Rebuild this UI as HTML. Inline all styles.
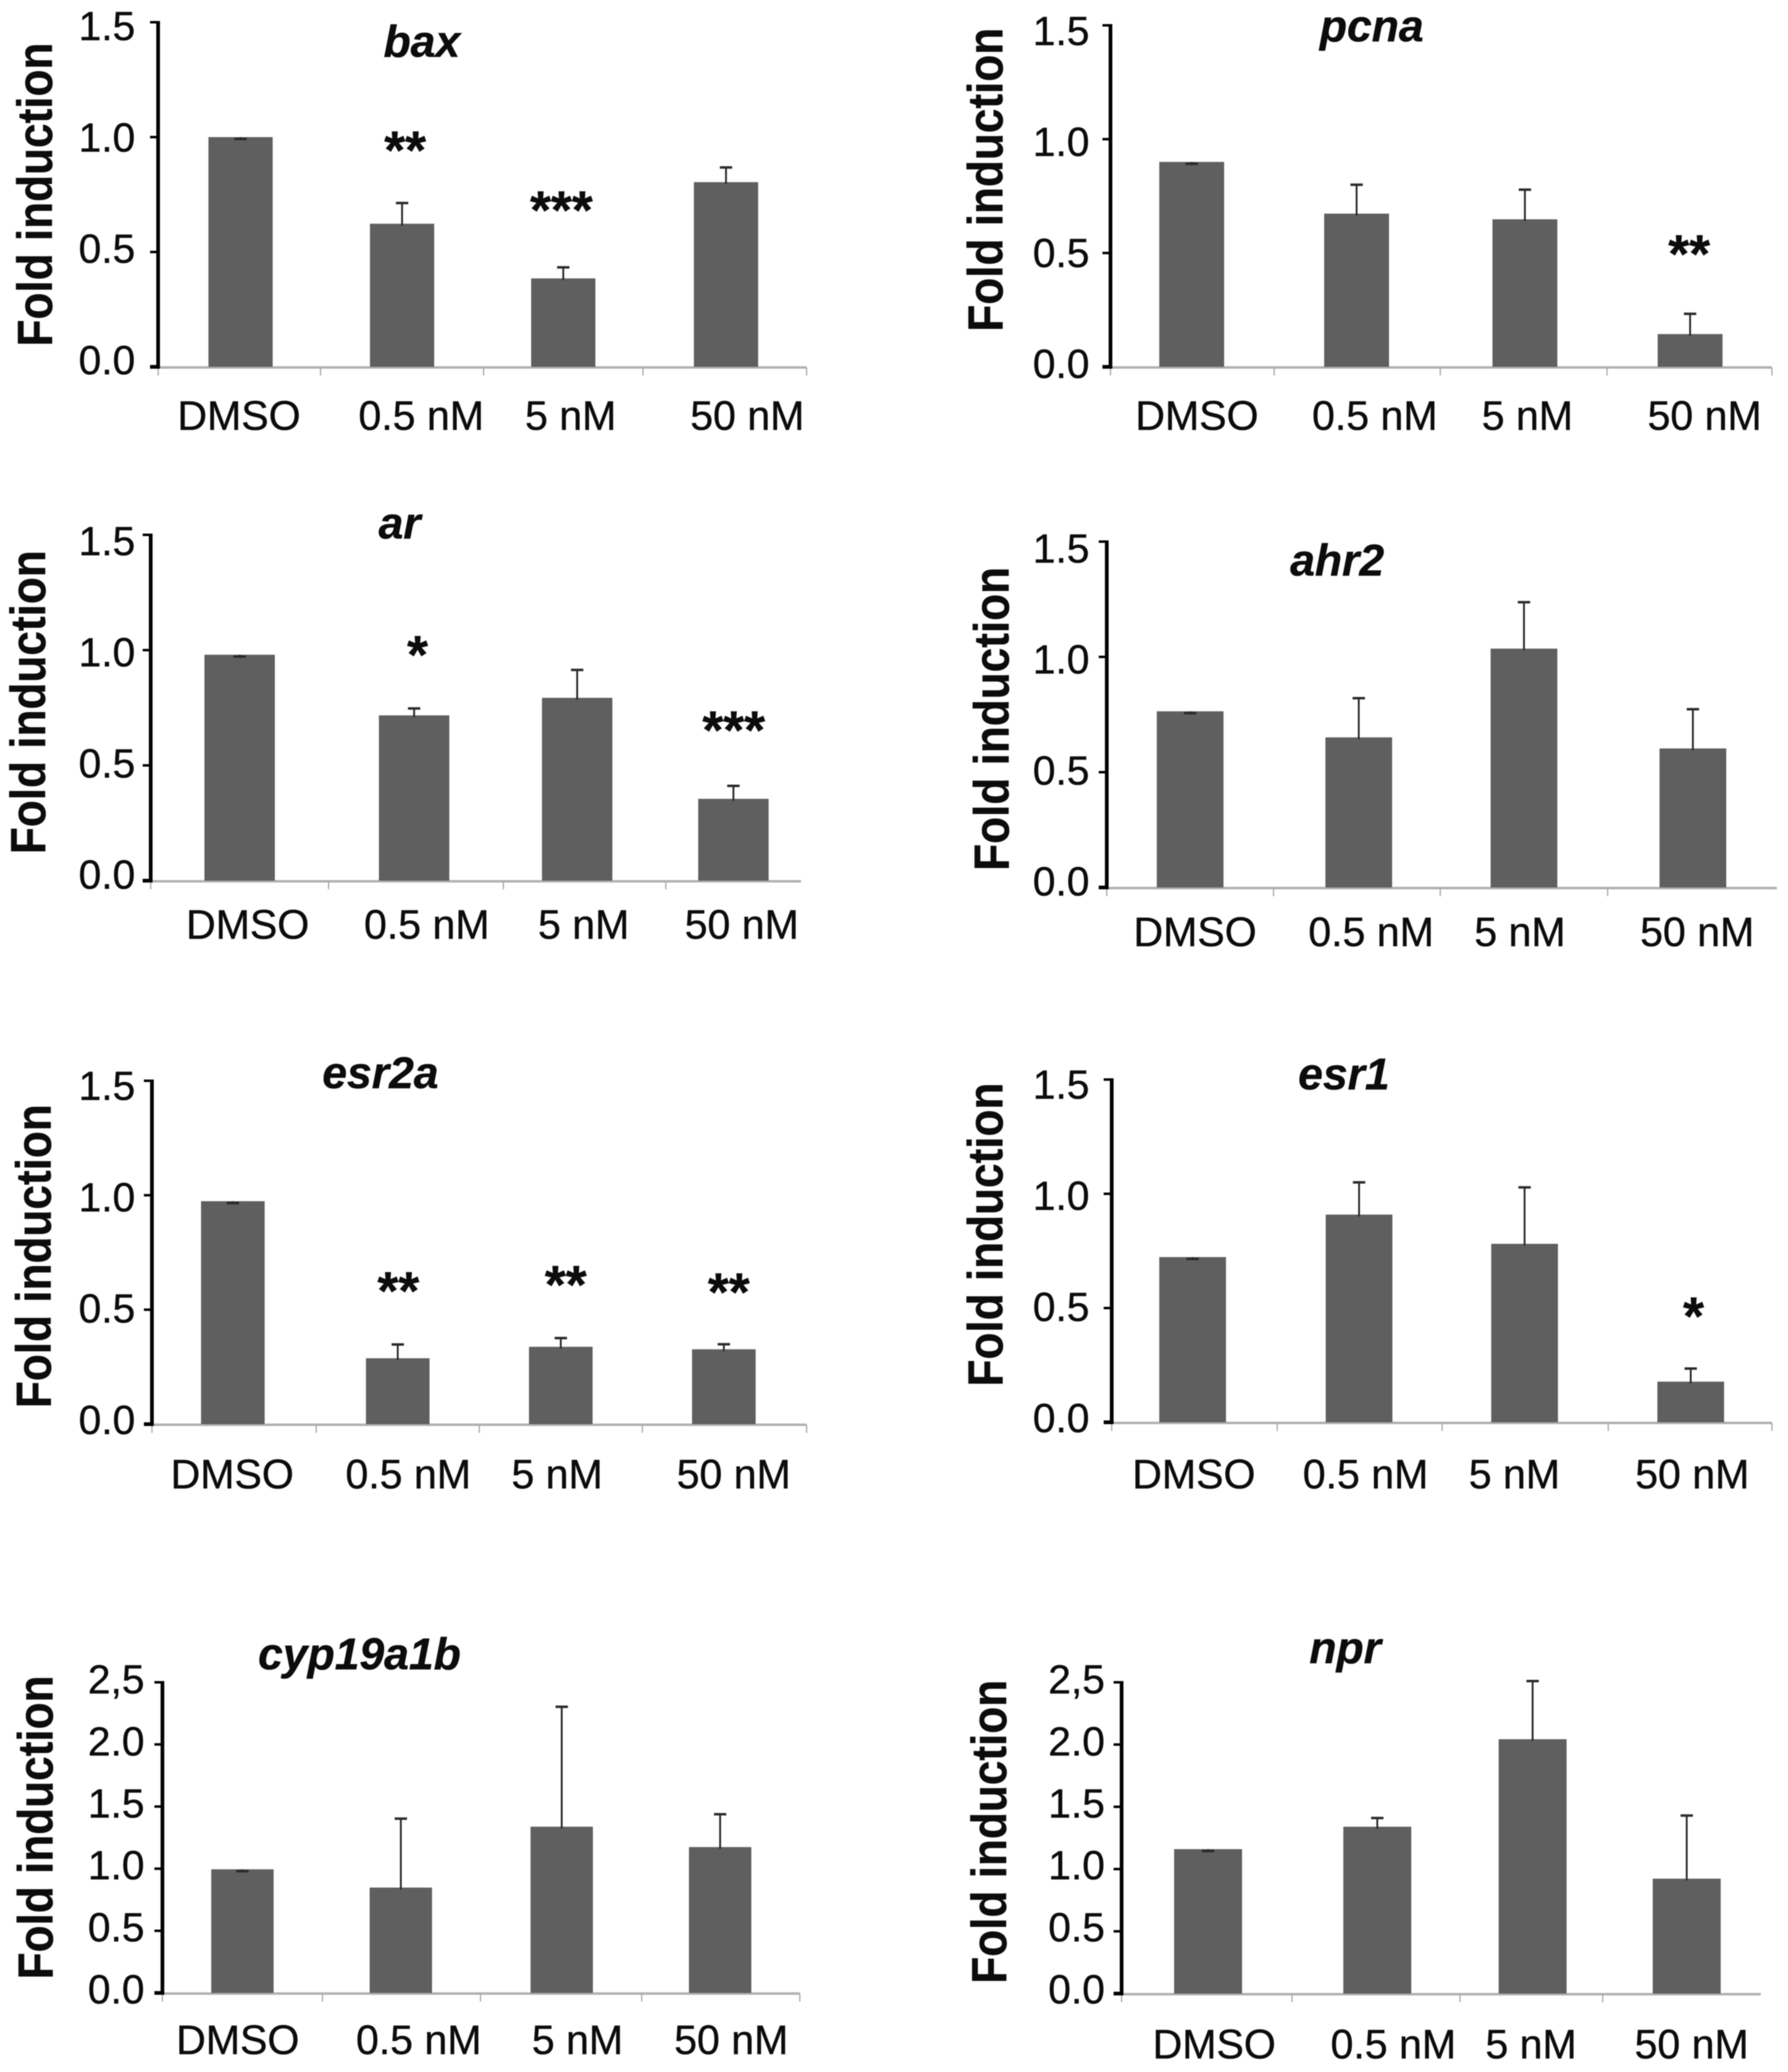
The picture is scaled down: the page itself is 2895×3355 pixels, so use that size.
<!DOCTYPE html>
<html lang="en">
<head>
<meta charset="utf-8">
<title>Fold induction bar charts</title>
<style>
html,body{margin:0;padding:0;background:#fff;}
#figure{display:block;width:2895px;height:3355px;filter:blur(0.8px);}
text{font-family:"Liberation Sans",sans-serif;fill:#0c0c0c;stroke:#0c0c0c;stroke-width:0.6px;}
</style>
</head>
<body>
<svg id="figure" xmlns="http://www.w3.org/2000/svg" width="2895" height="3355" viewBox="0 0 2895 3355"></svg>
<script>
// ---- chart data ----
const categories = ["DMSO", "0.5 nM", "5 nM", "50 nM"];
const tickValuesShort = [0, 0.5, 1.0, 1.5];
const tickLabelsShort = ["0.0", "0.5", "1.0", "1.5"];
const tickValuesTall = [0, 0.5, 1.0, 1.5, 2.0, 2.5];
const tickLabelsTall = ["0.0", "0.5", "1.0", "1.5", "2.0", "2,5"];

const baxValues = [1.0, 0.623, 0.385, 0.804];
const baxErrors = [0, 0.09, 0.048, 0.064];
const pcnaValues = [0.90, 0.673, 0.648, 0.144];
const pcnaErrors = [0, 0.127, 0.13, 0.089];
const arValues = [0.98, 0.717, 0.793, 0.355];
const arErrors = [0, 0.03, 0.121, 0.056];
const ahr2Values = [0.764, 0.651, 1.036, 0.603];
const ahr2Errors = [0, 0.17, 0.201, 0.17];
const esr2aValues = [0.974, 0.288, 0.338, 0.327];
const esr2aErrors = [0, 0.06, 0.038, 0.022];
const esr1Values = [0.723, 0.909, 0.781, 0.178];
const esr1Errors = [0, 0.141, 0.247, 0.057];
const cypValues = [0.995, 0.848, 1.338, 1.174];
const cypErrors = [0, 0.555, 0.965, 0.264];
const nprValues = [1.16, 1.34, 2.043, 0.923];
const nprErrors = [0, 0.07, 0.467, 0.507];

// ---- panel layout (geometry only, no data) ----
const panels = [
  {id:"bax", title:"bax", values:baxValues, errors:baxErrors, tv:tickValuesShort, tl:tickLabelsShort,
   xTicks:[256,519,783,1041,1306], endTick:true, nudge:[2,0,0,2], y0:594, yTop:36, lab0:606, labTop:65, labRight:219, barW:104,
   xLabels:[387,682,924,1210], xBase:696, titleX:683, titleY:92, ylabX:84, ylabY:315,
   stars:[{t:"**",x:656,y:227},{t:"***",x:909,y:324}]},
  {id:"pcna", title:"pcna", values:pcnaValues, errors:pcnaErrors, tv:tickValuesShort, tl:tickLabelsShort,
   xTicks:[1798,2063,2332,2602,2869], endTick:true, nudge:[-1,-1,2,1], y0:594, yTop:41, lab0:612, labTop:73, labRight:1764, barW:105,
   xLabels:[1938,2226,2473,2760], xBase:696, titleX:2221, titleY:67, ylabX:1623, ylabY:291,
   stars:[{t:"**",x:2735,y:395}]},
  {id:"ar", title:"ar", values:arValues, errors:arErrors, tv:tickValuesShort, tl:tickLabelsShort,
   xTicks:[244,532,815,1078,1297], endTick:false, nudge:[0,-3,-12,0], y0:1426, yTop:866, lab0:1439, labTop:899, labRight:219, barW:114,
   xLabels:[401,691,945,1201], xBase:1520, titleX:647, titleY:872, ylabX:73, ylabY:1137,
   stars:[{t:"*",x:676,y:1044},{t:"***",x:1188,y:1166}]},
  {id:"ahr2", title:"ahr2", values:ahr2Values, errors:ahr2Errors, tv:tickValuesShort, tl:tickLabelsShort,
   xTicks:[1792,2062,2332,2603,2877], endTick:false, nudge:[0,3,0,1], y0:1437, yTop:877, lab0:1450, labTop:911, labRight:1764, barW:108,
   xLabels:[1935,2220,2461,2748], xBase:1532, titleX:2165, titleY:932, ylabX:1633, ylabY:1164,
   stars:[]},
  {id:"esr2a", title:"esr2a", values:esr2aValues, errors:esr2aErrors, tv:tickValuesShort, tl:tickLabelsShort,
   xTicks:[246,512,776,1040,1306], endTick:true, nudge:[-2,0,0,-1], y0:2306, yTop:1750, lab0:2322, labTop:1781, labRight:219, barW:103,
   xLabels:[376,661,902,1188], xBase:2410, titleX:616, titleY:1762, ylabX:82, ylabY:2034,
   stars:[{t:"**",x:645,y:2074},{t:"**",x:916,y:2064},{t:"**",x:1180,y:2076}]},
  {id:"esr1", title:"esr1", values:esr1Values, errors:esr1Errors, tv:tickValuesShort, tl:tickLabelsShort,
   xTicks:[1800,2068,2335,2604,2869], endTick:true, nudge:[-3,-1,-1,1], y0:2303, yTop:1748, lab0:2319, labTop:1779, labRight:1764, barW:108,
   xLabels:[1933,2211,2452,2740], xBase:2410, titleX:2176, titleY:1764, ylabX:1623, ylabY:1999,
   stars:[{t:"*",x:2742,y:2115}]},
  {id:"cyp19a1b", title:"cyp19a1b", values:cypValues, errors:cypErrors, tv:tickValuesTall, tl:tickLabelsTall,
   xTicks:[263,522,778,1039,1295], endTick:true, nudge:[0,-1,1,-1], y0:3227, yTop:2724, lab0:3244, labTop:2742, labRight:234, barW:101,
   xLabels:[385,678,935,1184], xBase:3326, titleX:582, titleY:2703, ylabX:85, ylabY:2959,
   stars:[]},
  {id:"npr", title:"npr", values:nprValues, errors:nprErrors, tv:tickValuesTall, tl:tickLabelsTall,
   xTicks:[1816,2092,2364,2595,2851], endTick:false, nudge:[2,2,2,8], y0:3228, yTop:2724, lab0:3244, labTop:2742, labRight:1789, barW:110,
   xLabels:[1966,2256,2479,2739], xBase:3333, titleX:2178, titleY:2693, ylabX:1629, ylabY:2966,
   stars:[]}
];

const NS = "http://www.w3.org/2000/svg";
const root = document.getElementById("figure");

function make(parent, tag, attrs, txt) {
  const el = document.createElementNS(NS, tag);
  for (const k in attrs) el.setAttribute(k, attrs[k]);
  if (txt !== undefined) el.textContent = txt;
  parent.appendChild(el);
  return el;
}

panels.forEach(function (p) {
  const maxV = p.tv[p.tv.length - 1];
  const yScale = function (v) { return p.y0 - (v / maxV) * (p.y0 - p.yTop); };
  const labScale = function (v) { return p.lab0 - (v / maxV) * (p.lab0 - p.labTop); };
  const bandCenter = function (i) { return (p.xTicks[i] + p.xTicks[i + 1]) / 2 + p.nudge[i]; };
  const x0 = p.xTicks[0];
  const x1 = p.xTicks[p.xTicks.length - 1];

  const g = make(root, "g", {});
  
  

  // x axis
  const xAxis = make(g, "line", {x1:x0, x2:x1, y1:p.y0 + 1, y2:p.y0 + 1, stroke:"#b0b0b0", "stroke-width":4});
  
  

  p.xTicks.forEach(function (tx, i) {
    if (i === p.xTicks.length - 1 && !p.endTick) return;
    const t = make(g, "line", {x1:tx, x2:tx, y1:p.y0 + 1, y2:p.y0 + 14, stroke:"#a8a8a8", "stroke-width":2});
    
    
  });

  // bars and error bars
  p.values.forEach(function (v, i) {
    const cx = bandCenter(i);
    const top = yScale(v);
    const bar = make(g, "rect", {x:cx - p.barW / 2, y:top, width:p.barW, height:p.y0 - top, fill:"#5f5f5f"});
    
    

    const eTop = yScale(v + p.errors[i]);
    const stem = make(g, "line", {x1:cx, x2:cx, y1:top + 3, y2:eTop, stroke:"#2a2a2a", "stroke-width":3});
    
    

    const capY = p.errors[i] === 0 ? eTop + 3 : eTop;
    const cap = make(g, "line", {x1:cx - 10, x2:cx + 10, y1:capY, y2:capY, stroke:"#2a2a2a", "stroke-width":4});
    
    

    const lab = make(g, "text", {x:p.xLabels[i], y:p.xBase, "text-anchor":"middle", "font-size":66.5}, categories[i]);
    
    
  });

  // y axis
  const yAxis = make(g, "line", {x1:x0, x2:x0, y1:p.yTop - 2, y2:p.y0 + 3, stroke:"#000", "stroke-width":6});
  
  

  p.tv.forEach(function (tv, i) {
    const ty = yScale(tv);
    const t = make(g, "line", {x1:x0 - 13, x2:x0, y1:ty, y2:ty, stroke:"#000", "stroke-width":tv === 0 ? 6 : 4});
    
    

    const tl = make(g, "text", {x:p.labRight, y:labScale(tv), "text-anchor":"end", "font-size":66}, p.tl[i]);
    
    
  });

  // y axis title
  const yt = make(g, "text", {
    transform:"translate(" + p.ylabX + "," + p.ylabY + ") rotate(-90)",
    "text-anchor":"middle", "font-size":80, "font-weight":"bold",
    textLength:492, lengthAdjust:"spacingAndGlyphs"
  }, "Fold induction");
  
  

  // chart title
  const title = make(g, "text", {x:p.titleX, y:p.titleY, "text-anchor":"middle", "font-size":72, "font-weight":"bold", "font-style":"italic"}, p.title);
  
  

  // significance stars
  p.stars.forEach(function (s) {
    const st = make(g, "text", {x:s.x, y:s.y + 46, "text-anchor":"middle", "font-size":87, "font-weight":"bold"}, s.t);
    
    
  });
});
</script>
</body>
</html>
